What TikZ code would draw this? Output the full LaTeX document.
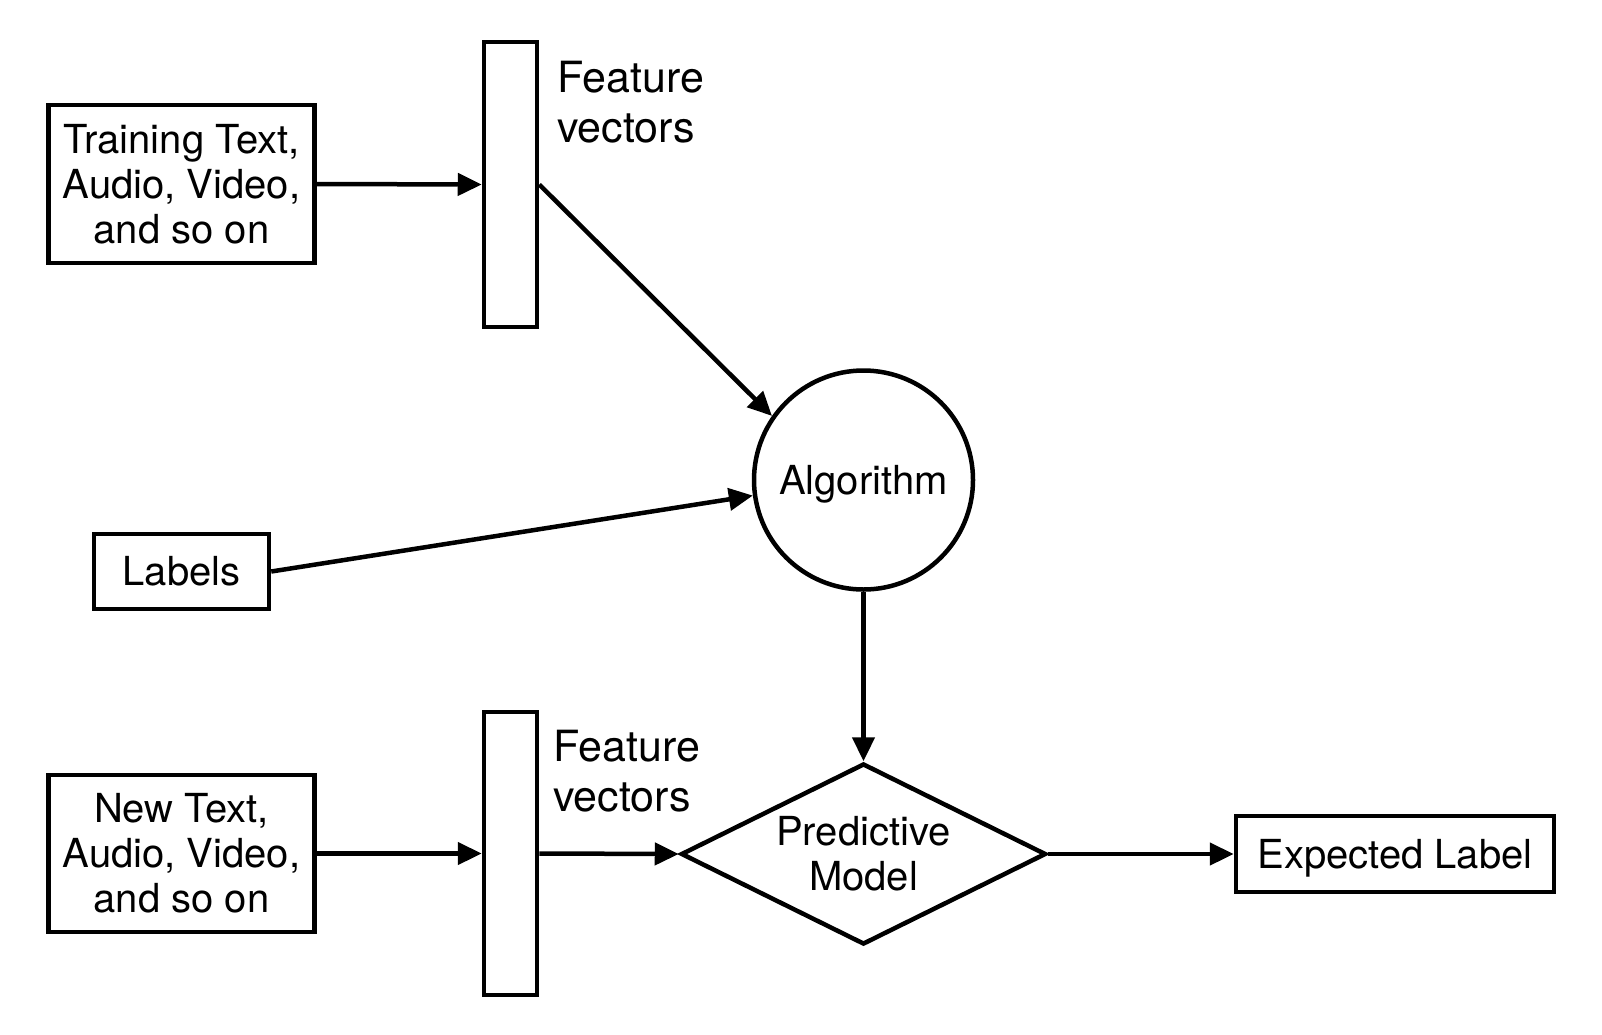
\documentclass[tikz,border=0pt]{standalone}
\usepackage{fontspec}
\setmainfont{TeX Gyre Heros}
\usetikzlibrary{shapes.geometric,arrows.meta}
\begin{document}
\begin{tikzpicture}[x=1pt,y=-1pt,
  box/.style={draw,line width=4.5pt,inner sep=0pt,align=center,font=\fontsize{40}{45}\selectfont},
  bar/.style={draw,line width=4.5pt,inner sep=0pt,minimum width=53pt},
  lbl/.style={inner sep=0pt,align=left,anchor=west,font=\fontsize{43}{50}\selectfont},
  conn/.style={line width=4.5pt,-{Triangle[length=24pt,width=22pt]}}]
\useasboundingbox (0,0) rectangle (1602,1034);
\node[box,minimum width=266pt,minimum height=158pt] (train) at (181.5,184) {Training Text,\\Audio, Video,\\and so on};
\node[bar,minimum height=285pt] (bar1) at (510.5,184.5) {};
\node[lbl] (feat1) at (557,102) {Feature\\vectors};
\node[box,circle,text depth=0pt,minimum size=219pt] (algo) at (863.5,480) {Algorithm};
\node[box,minimum width=175pt,minimum height=75pt] (labels) at (181.5,571.5) {Labels};
\node[bar,minimum height=283pt] (bar2) at (510.5,853.5) {};
\node[lbl] (feat2) at (553,771) {Feature\\vectors};
\node[box,minimum width=266pt,minimum height=157pt] (newt) at (181.5,853.5) {New Text,\\Audio, Video,\\and so on};
\node[box,diamond,aspect=2.02,minimum width=365pt,minimum height=181pt] (model) at (863.5,854) {Predictive\\Model};
\node[box,text depth=0pt,minimum width=318pt,minimum height=76pt] (exp) at (1395,854) {Expected Label};
\draw[conn] (train.east) -- (bar1.west);
\draw[conn] (bar1.east) -- (algo.145);
\draw[conn] (labels.east) -- (algo.188);
\draw[conn] (algo.south) -- (model.north);
\draw[conn] (newt.east) -- (bar2.west);
\draw[conn] (bar2.east) -- (model.west);
\draw[conn] (model.east) -- (exp.west);
\end{tikzpicture}
\end{document}
